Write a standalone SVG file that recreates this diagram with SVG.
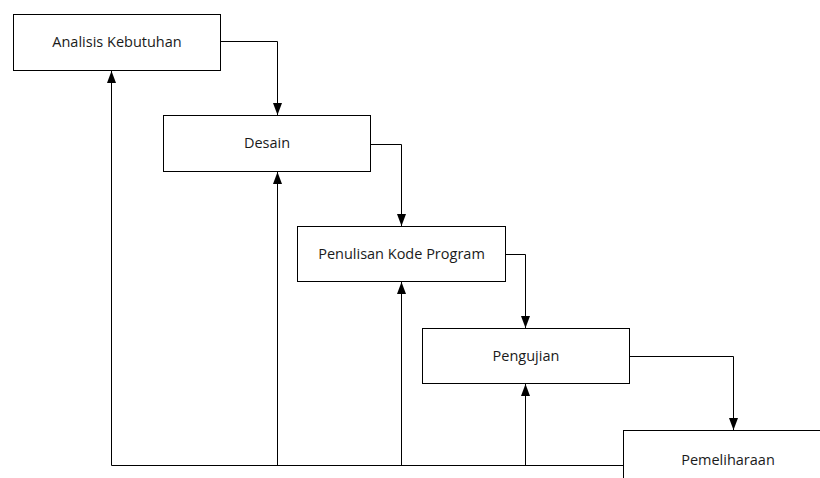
<svg xmlns="http://www.w3.org/2000/svg" width="820" height="478" viewBox="0 0 820 478">
  <style>
    .box { fill: #ffffff; stroke: #000000; stroke-width: 1; }
    .lbl { font-family: "Open Sans", "Noto Sans", sans-serif; font-size: 14.5px; fill: #1a1a1a; text-anchor: middle; }
    .edge { fill: none; stroke: #000000; stroke-width: 1; }
  </style>
  <defs>
    <marker id="arrow" viewBox="0 0 12 9" refX="12" refY="4.5" markerWidth="12" markerHeight="9" markerUnits="userSpaceOnUse" orient="auto">
      <path d="M0,0 L12,4.5 L0,9 z" fill="#000000"/>
    </marker>
  </defs>

  <rect width="820" height="478" fill="#ffffff"/>

  <!-- connectors -->
  <g id="connectors" class="edge">
    <!-- forward flow between phases -->
    <path d="M220.5,41.5 H277.5 V115" marker-end="url(#arrow)"/>
    <path d="M370.5,144.5 H401.5 V226" marker-end="url(#arrow)"/>
    <path d="M505.5,254.5 H525.5 V328" marker-end="url(#arrow)"/>
    <path d="M629.5,356.5 H733.5 V430" marker-end="url(#arrow)"/>
    <!-- feedback bus along the bottom -->
    <path d="M111.5,465.5 H623.5"/>
    <path d="M111.5,465.5 V71" marker-end="url(#arrow)"/>
    <path d="M277.5,465.5 V172" marker-end="url(#arrow)"/>
    <path d="M401.5,465.5 V282" marker-end="url(#arrow)"/>
    <path d="M525.5,465.5 V384" marker-end="url(#arrow)"/>
  </g>

  <g id="analisis">
    <rect class="box" x="13.5" y="14.5" width="207" height="56"/>
    <text class="lbl" x="117" y="47">Analisis Kebutuhan</text>
  </g>
  <g id="desain">
    <rect class="box" x="163.5" y="115.5" width="207" height="56"/>
    <text class="lbl" x="267" y="148">Desain</text>
  </g>
  <g id="penulisan">
    <rect class="box" x="297.5" y="226.5" width="208" height="55"/>
    <text class="lbl" x="401.5" y="259">Penulisan Kode Program</text>
  </g>
  <g id="pengujian">
    <rect class="box" x="422.5" y="328.5" width="207" height="55"/>
    <text class="lbl" x="526" y="361">Pengujian</text>
  </g>
  <g id="pemeliharaan">
    <rect class="box" x="623.5" y="430.5" width="210" height="60"/>
    <text class="lbl" x="728" y="465">Pemeliharaan</text>
  </g>
</svg>
